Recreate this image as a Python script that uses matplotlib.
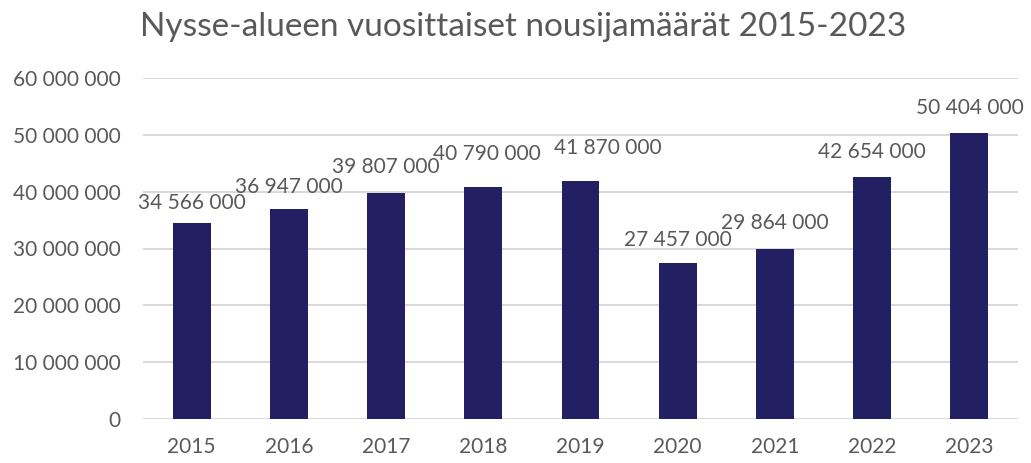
import matplotlib
matplotlib.use("Agg")
import matplotlib.pyplot as plt
from matplotlib.ticker import FuncFormatter

years = ["2015", "2016", "2017", "2018", "2019", "2020", "2021", "2022", "2023"]
boardings = [34566000, 36947000, 39807000, 40790000, 41870000,
             27457000, 29864000, 42654000, 50404000]
title = "Nysse-alueen vuosittaiset nousijamäärät 2015-2023"

# label placement (pixels above bar top / horizontal shift), mimicking Excel layout
label_dy = [20, 22, 26, 33, 33, 23, 26, 25, 25]
label_dx = [0, 0, 0, 4, 27, 0, 0, 0, 0]

plt.rcParams['font.family'] = ['Lato', 'DejaVu Sans']
grey = '#595959'
bar_color = '#231F63'

fig = plt.figure(figsize=(10.31, 4.63), dpi=100)
ax = fig.add_axes([143/1031, 1 - 419/463, (1018-143)/1031, (419-78)/463])

x = list(range(len(years)))
ax.bar(x, boardings, width=0.39, color=bar_color, zorder=3)
ax.set_xlim(-0.5, len(years) - 0.5)
ax.set_ylim(0, 60000000)
ax.set_yticks(range(0, 60000001, 10000000))
fmt = lambda v, p=None: f"{int(v):,}".replace(",", " ")
ax.yaxis.set_major_formatter(FuncFormatter(fmt))
ax.set_xticks(x)
ax.set_xticklabels(years)
ax.grid(axis='y', color='#d9d9d9', linewidth=1.4, zorder=0)
ax.set_axisbelow(True)
for s in ax.spines.values():
    s.set_visible(False)
ax.tick_params(axis='both', length=0, colors=grey, labelsize=15)
ax.tick_params(axis='y', pad=16)
ax.tick_params(axis='x', pad=13)

for xi, v, dy, dx in zip(x, boardings, label_dy, label_dx):
    ax.annotate(fmt(v), (xi, v), xytext=(dx * 0.72, dy * 0.72),
                textcoords='offset points', ha='center', va='center',
                fontsize=15, color=grey)

fig.text(523/1031, 1 - 27/463, title, ha='center', va='center',
         fontsize=24, color=grey)

fig.savefig("out.png", dpi=100)
